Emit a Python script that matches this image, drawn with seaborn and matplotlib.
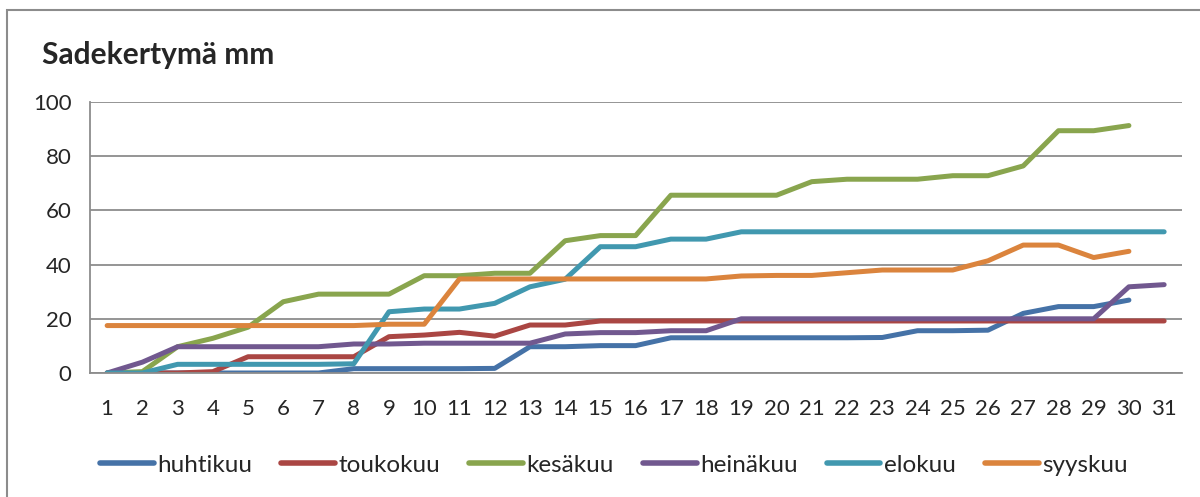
import numpy as np
import pandas as pd
import matplotlib.pyplot as plt
import seaborn as sns
from matplotlib.patches import Rectangle

days = list(range(1, 32))
months = ["huhtikuu", "toukokuu", "kesäkuu", "heinäkuu", "elokuu", "syyskuu"]
colors = ["#4572A7", "#AA4643", "#89A54E", "#71588F", "#4198AF", "#DB843D"]

huhtikuu = [0, 0, 0, 0, 0, 0, 0, 1.6, 1.6, 1.6, 1.6, 1.7, 9.7, 9.7, 10.1, 10.1,
            13.0, 13.0, 13.0, 13.0, 13.0, 13.0, 13.1, 15.6, 15.6, 15.8, 22.0, 24.5,
            24.5, 26.9]
toukokuu = [0, 0, 0, 0.5, 6.0, 6.0, 6.0, 6.0, 13.4, 14.0, 15.0, 13.6, 17.7, 17.7,
            19.2, 19.2, 19.2, 19.2, 19.2, 19.2, 19.2, 19.2, 19.2, 19.2, 19.2, 19.2,
            19.2, 19.2, 19.2, 19.2, 19.2]
kesakuu = [0, 0.5, 9.7, 12.8, 16.9, 26.3, 29.1, 29.1, 29.1, 35.9, 35.9, 36.8, 36.8,
           48.8, 50.7, 50.7, 65.6, 65.6, 65.6, 65.6, 70.6, 71.5, 71.5, 71.5, 72.8,
           72.8, 76.4, 89.4, 89.4, 91.3]
heinakuu = [0, 4.0, 9.7, 9.7, 9.7, 9.7, 9.7, 10.7, 10.7, 11.0, 11.0, 11.0, 11.0,
            14.4, 14.9, 14.9, 15.6, 15.6, 20.0, 20.0, 20.0, 20.0, 20.0, 20.0, 20.0,
            20.0, 20.0, 20.0, 20.0, 31.8, 32.6]
elokuu = [0, 0, 3.2, 3.2, 3.2, 3.2, 3.2, 3.4, 22.6, 23.6, 23.6, 25.7, 31.8, 34.6,
          46.6, 46.6, 49.4, 49.4, 52.1, 52.1, 52.1, 52.1, 52.1, 52.1, 52.1, 52.1,
          52.1, 52.1, 52.1, 52.1, 52.1]
syyskuu = [17.5, 17.5, 17.5, 17.5, 17.5, 17.5, 17.5, 17.5, 18.0, 18.0, 34.7, 34.7,
           34.7, 34.7, 34.7, 34.7, 34.7, 34.7, 35.8, 36.0, 36.0, 37.0, 38.0, 38.0,
           38.0, 41.4, 47.2, 47.2, 42.6, 44.9]

series = [huhtikuu, toukokuu, kesakuu, heinakuu, elokuu, syyskuu]
rows = []
for name, vals in zip(months, series):
    for d, v in zip(days, vals):
        rows.append({"päivä": d, "mm": v, "kuukausi": name})
df = pd.DataFrame(rows)

sns.set_style("white")
plt.rcParams["font.family"] = ["Lato", "DejaVu Sans"]

fig = plt.figure(figsize=(12, 4.97), dpi=100)
ax = fig.add_axes([0.0746, 0.2495, 0.9102, 0.5453])

# outer chart frame
fig.patches.append(Rectangle((7 / 1200, -0.1), 1.2, 1.1 - 10 / 497, transform=fig.transFigure,
                             fill=False, edgecolor="#8c8c8c", linewidth=1.5))

sns.lineplot(data=df, x="päivä", y="mm", hue="kuukausi", hue_order=months,
             palette=colors, linewidth=3.6, ax=ax, legend=True)
for line in ax.get_lines():
    line.set_solid_capstyle("round")
    line.set_solid_joinstyle("round")

ax.set_xlim(0.5, 31.5)
ax.set_ylim(0, 100)
ax.set_yticks(range(0, 101, 20))
ax.set_xticks(days)
ax.set_xticks(np.arange(0.5, 32, 1), minor=True)
ax.yaxis.grid(True, color="#8c8c8c", linewidth=1.3)
ax.set_axisbelow(True)
for s in ["top", "right"]:
    ax.spines[s].set_visible(False)
for s in ["left", "bottom"]:
    ax.spines[s].set_color("#8c8c8c")
    ax.spines[s].set_linewidth(1.3)
ax.tick_params(axis="y", which="major", length=8, width=1.3, color="#8c8c8c",
               labelsize=16, pad=5)
ax.tick_params(axis="x", which="major", length=0, labelsize=16, pad=19)
ax.tick_params(axis="x", which="minor", length=8, width=1.3, color="#8c8c8c")
ax.set_xlabel("")
ax.set_ylabel("")

fig.text(42 / 1200, 1 - 55 / 497, "Sadekertymä mm", fontsize=21.5, fontweight="bold",
         va="center", ha="left")

handles, labels = ax.get_legend_handles_labels()
ax.get_legend().remove()
for h in handles:
    h.set_linewidth(4)
    h.set_solid_capstyle("round")
fig.legend(handles, labels, loc="center", bbox_to_anchor=(614 / 1200, 1 - 465 / 497),
           ncol=6, frameon=False, fontsize=17.5, handlelength=2.2, handletextpad=0.15,
           columnspacing=1.2)

fig.savefig("out.png", dpi=100)
